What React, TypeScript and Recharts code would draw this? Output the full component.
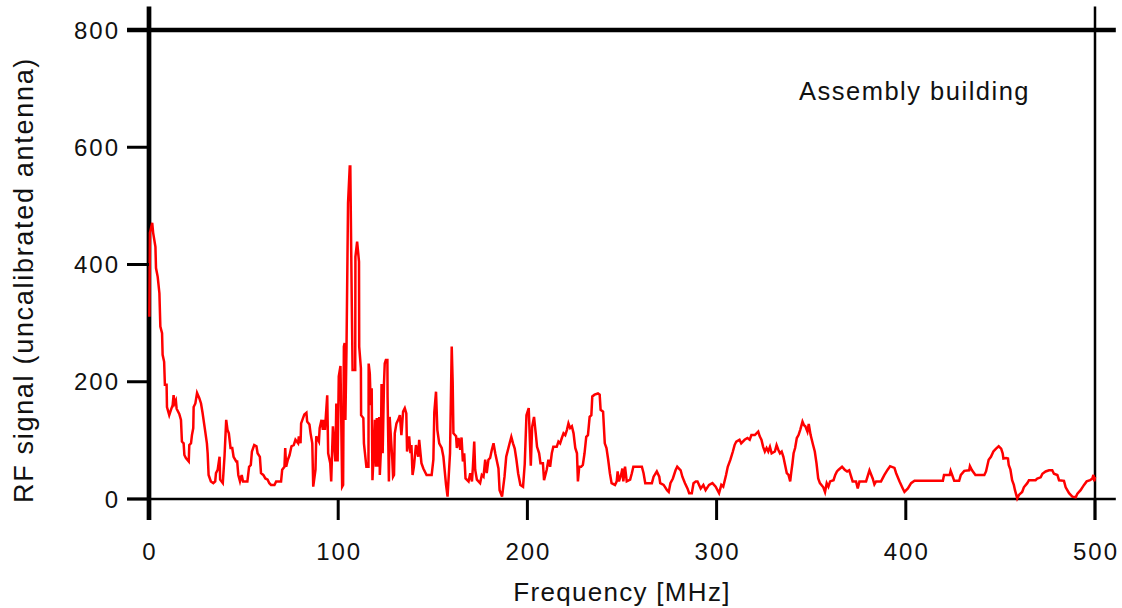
import { LineChart, Line, XAxis, YAxis, ReferenceLine } from 'recharts';

// values
const freqMHz = [
  0.2, 0.5, 1.7, 2.2, 3.4, 3.7, 4.6, 5.5, 6, 6.9, 7.2, 8, 8.4, 9.3, 9.5, 10.7, 11.6, 12.5, 13, 13.5,
  14.2, 14.6, 16, 16.9, 17.4, 18.3, 18.7, 19.5, 21, 21.3, 22.2, 22.7, 23.4, 23.6, 24.5, 25.4, 26.6, 27.5, 28.3, 29.6,
  30.6, 31, 31.5, 32.7, 34, 35, 35.4, 36.3, 37.3, 37.6, 39, 39.9, 40.8, 41.5, 42.2, 43.1, 44, 44.7, 46.1, 46.6,
  47.2, 48.1, 49, 49.7, 52, 52.9, 53.8, 54.4, 55.6, 56.8, 57.4, 58.6, 59.2, 60.4, 61.5, 62.7, 63.6, 64.5, 66.3, 67.2,
  69.8, 70.4, 71.6, 72, 72.5, 73.4, 74.3, 75.3, 76.5, 77.4, 78.8, 79.2, 80.1, 80.4, 81.4, 82.1, 83.2, 83.6, 84.8, 85.4,
  86.3, 86.8, 88, 88.4, 89.8, 90.2, 91.2, 91.9, 92.4, 93, 94.2, 94.7, 95.8, 96.3, 97.2, 98.5, 99, 99.7, 100.3, 101.2,
  102.1, 102.6, 103, 103.4, 103.8, 104.4, 105.2, 106.1, 106.4, 107.2, 107.6, 109, 109.1, 110, 111, 111.1, 112, 112.1, 113.3, 113.6,
  114.9, 116, 116.1, 116.7, 117.2, 117.7, 118.1, 119, 119.4, 119.9, 120.4, 121.1, 121.7, 122, 122.5, 122.9, 123.4, 123.5, 124.2, 124.6,
  125.2, 126, 126.1, 126.8, 127.2, 128.6, 129, 129.5, 129.9, 130.8, 131.7, 132.6, 133.4, 134.3, 135.2, 136, 136.4, 137.5, 138.2, 138.7,
  139.3, 140, 141.1, 142.3, 142.8, 144, 145, 146.7, 149.4, 150.3, 150.8, 151.7, 152.4, 153.4, 154.7, 155.6, 157, 157.8, 159.1, 160,
  160.5, 160.9, 162.3, 162.7, 163.6, 164.5, 165.2, 165.9, 166.6, 167.3, 168.9, 169.8, 170.7, 171.2, 171.9, 172.4, 173.3, 175, 175.9, 176.8,
  177.7, 178.5, 179.4, 180.3, 181.2, 182.1, 183, 184.7, 185.3, 186.6, 187.9, 188.8, 190.6, 191.5, 192.4, 193.3, 194.2, 195.1, 196.3, 197.7,
  198.6, 199.5, 200.7, 201.3, 201.8, 202.5, 203.5, 204.4, 205.1, 206.2, 206.9, 208.2, 208.8, 210.2, 211.1, 212, 212.9, 213.7, 215.5, 216.4,
  217.3, 218.2, 219.1, 220, 220.9, 221.7, 222.6, 223.5, 224.4, 225.3, 226.2, 226.7, 227.4, 228.4, 229.3, 230.2, 231.1, 232, 232.9, 233.8,
  234.3, 235.5, 237.3, 238.2, 238.7, 240, 240.9, 241.8, 242.7, 243.6, 244.5, 246.3, 247.2, 247.7, 248.4, 249.5, 250.2, 250.7, 251.6, 252.5,
  254.3, 255.2, 256, 260.5, 261.4, 262.3, 265.8, 266.7, 268.4, 269.7, 270.2, 272, 273.8, 274.7, 275.6, 276.9, 278.3, 279.2, 281, 281.9,
  283.3, 284.6, 285.5, 286.9, 287.8, 289, 289.9, 291.6, 293, 294.2, 296, 297.8, 299.5, 301.3, 302.5, 303.5, 305, 305.9, 307.3, 308.6,
  309.5, 310.4, 312.1, 313, 314.8, 316.3, 317.5, 318.4, 320.2, 322, 322.8, 323.7, 324.6, 325.5, 326.4, 327.3, 328.2, 329.1, 330.8, 331.7,
  332.6, 333.5, 334.4, 335.3, 336.2, 337.1, 338, 338.9, 339.4, 340.1, 340.7, 341.5, 342.4, 343.3, 344.2, 345.4, 346.2, 346.9, 348, 348.7,
  349.7, 351, 351.9, 352.8, 353.7, 354.6, 356.4, 357.3, 358.2, 359.1, 360, 361.8, 362.7, 363.6, 364.5, 366.3, 367.7, 369, 370.1, 371.9,
  373.7, 374.6, 375.5, 379, 380.8, 382.5, 383.4, 384.3, 386.9, 388.7, 390.4, 391.7, 394, 394.9, 396.7, 398.4, 399.3, 401.1, 402.8, 404.6,
  419.6, 420.2, 423.2, 423.7, 424.5, 425.6, 428.2, 429.1, 430.9, 433.5, 433.9, 435, 436.8, 441.5, 442.4, 443.8, 445, 446.3, 447.7, 449.1,
  450.4, 451.2, 451.6, 453, 454, 454.4, 455.3, 456.2, 457.1, 457.7, 458.9, 459.8, 461.5, 462.4, 464.2, 465.1, 468.6, 469.5, 471.3, 472.2,
  473.9, 475.7, 477.4, 478.3, 480.1, 481, 483.6, 484.5, 486.3, 488, 489.8, 490.7, 492.4, 494.2, 495.6, 497.4, 498.6, 499.2, 499.6, 500,
];

const rfSignal = [
  311, 454, 471, 454, 430, 394, 379, 351, 294, 283, 246, 234, 195, 195, 157, 143, 152, 160, 177, 163,
  168, 154, 145, 135, 98, 95, 75, 70, 64, 92, 95, 109, 121, 157, 163, 181, 172, 163, 147, 118,
  95, 78, 41, 30, 27, 30, 44, 50, 72, 33, 27, 72, 135, 118, 112, 87, 87, 72, 64, 64,
  41, 30, 41, 30, 30, 55, 58, 81, 92, 90, 78, 72, 44, 41, 35, 33, 27, 24, 24, 30,
  30, 50, 55, 87, 55, 67, 75, 90, 92, 101, 95, 107, 95, 129, 138, 144, 147, 132, 127, 112,
  95, 21, 50, 107, 98, 121, 135, 118, 135, 118, 177, 78, 61, 30, 124, 64, 163, 64, 209, 227,
  21, 24, 260, 266, 135, 260, 505, 567, 567, 328, 220, 220, 413, 439, 405, 260, 223, 143, 138, 95,
  55, 55, 231, 214, 160, 189, 32, 95, 135, 55, 138, 55, 140, 41, 78, 194, 194, 78, 197, 231,
  237, 237, 175, 30, 140, 67, 38, 41, 112, 129, 135, 143, 109, 149, 155, 146, 81, 107, 78, 92,
  41, 55, 92, 72, 101, 61, 52, 41, 41, 67, 148, 183, 118, 95, 87, 72, 24, 4, 78, 260,
  200, 112, 107, 87, 104, 84, 105, 64, 78, 35, 30, 44, 30, 55, 98, 50, 33, 27, 41, 38,
  67, 44, 67, 70, 84, 95, 78, 52, 15, 4, 38, 72, 95, 106, 95, 86, 67, 44, 24, 21,
  60, 143, 155, 101, 57, 123, 140, 112, 89, 78, 61, 61, 32, 50, 67, 55, 78, 89, 89, 98,
  95, 104, 112, 109, 118, 129, 121, 124, 112, 87, 78, 30, 55, 55, 58, 78, 106, 109, 140, 143,
  175, 178, 180, 178, 152, 149, 95, 87, 67, 44, 27, 24, 30, 47, 30, 41, 52, 30, 55, 30,
  33, 44, 55, 55, 44, 27, 27, 38, 47, 38, 27, 24, 15, 12, 27, 35, 49, 55, 49, 38,
  27, 18, 10, 10, 27, 30, 30, 18, 24, 15, 24, 27, 21, 10, 24, 21, 41, 55, 67, 81,
  92, 98, 101, 95, 101, 104, 101, 109, 109, 115, 107, 101, 89, 81, 87, 81, 89, 78, 81, 92,
  84, 78, 81, 72, 58, 44, 41, 30, 44, 61, 78, 87, 104, 109, 118, 132, 126, 124, 115, 128,
  109, 92, 81, 61, 35, 27, 20, 12, 27, 21, 30, 32, 41, 47, 50, 55, 50, 47, 49, 30,
  30, 18, 30, 30, 49, 35, 25, 30, 30, 41, 50, 56, 53, 44, 30, 18, 12, 18, 27, 31,
  31, 41, 41, 48, 41, 31, 31, 41, 48, 49, 56, 49, 41, 41, 47, 67, 72, 81, 86, 90,
  86, 78, 69, 70, 69, 58, 50, 32, 24, 15, 1, 7, 12, 20, 27, 32, 32, 35, 37, 43,
  47, 49, 49, 43, 41, 32, 31, 20, 10, 4, 3, 9, 15, 24, 30, 32, 35, 41, 30, 38,
];

const freqTicks = [0, 100, 200, 300, 400, 500];
const signalTicks = [0, 200, 400, 600, 800];

const data = freqMHz.map((f, i) => ({ f, v: rfSignal[i] }));

const FONT = '"Liberation Sans", Arial, Helvetica, sans-serif';

const YTick = ({ x, y, payload }: any) => (
  <text x={x} y={y} dy="0.355em" textAnchor="end" fontFamily={FONT} fontSize={24} letterSpacing={2} fill="#111">
    {payload.value}
  </text>
);

const XTick = ({ x, y, payload }: any) => (
  <text x={x} y={y} dx={1} dy="0.71em" textAnchor="middle" fontFamily={FONT} fontSize={24} letterSpacing={2} fill="#111">
    {payload.value}
  </text>
);

export default function App() {
  return (
    <div style={{ position: 'absolute', left: 0, top: 0, width: 1122, height: 608, background: '#fff' }}>
      <LineChart
        width={1122}
        height={608}
        data={data}
        margin={{ top: 0, right: 0, bottom: 0, left: 0 }}
        style={{ overflow: 'visible' }}
      >
        <XAxis
          dataKey="f"
          type="number"
          domain={[0, 500]}
          ticks={freqTicks}
          height={109}
          axisLine={false}
          tickSize={21}
          tickMargin={23}
          tickLine={{ stroke: '#000', strokeWidth: 3 }}
          tick={<XTick />}
          label={{
            content: () => (
              <text x={622} y={601} textAnchor="middle" fontFamily={FONT} fontSize={26} letterSpacing={1.3} fill="#111">
                Frequency [MHz]
              </text>
            ),
          }}
        />
        <XAxis
          xAxisId="top"
          orientation="top"
          dataKey="f"
          type="number"
          domain={[0, 500]}
          ticks={freqTicks}
          height={30}
          axisLine={false}
          tickSize={23}
          tickLine={{ stroke: '#000', strokeWidth: 3 }}
          tick={false}
        />
        <YAxis
          type="number"
          domain={[0, 800]}
          ticks={signalTicks}
          width={149}
          axisLine={false}
          tickSize={22}
          tickMargin={7}
          tickLine={{ stroke: '#000', strokeWidth: 3 }}
          tick={<YTick />}
          label={{
            content: () => (
              <text
                x={33}
                y={280}
                transform="rotate(-90 33 280)"
                textAnchor="middle"
                fontFamily={FONT}
                fontSize={27}
                letterSpacing={1.7}
                fill="#111"
              >
                RF signal (uncalibrated antenna)
              </text>
            ),
          }}
        />
        <YAxis
          yAxisId="right"
          orientation="right"
          type="number"
          domain={[0, 800]}
          ticks={signalTicks}
          width={27}
          axisLine={false}
          tickSize={20}
          tickLine={{ stroke: '#000', strokeWidth: 3 }}
          tick={false}
          label={{
            content: () => (
              <text x={799} y={100} textAnchor="start" fontFamily={FONT} fontSize={25.5} letterSpacing={1.5} fill="#111">
                Assembly building
              </text>
            ),
          }}
        />

        <ReferenceLine segment={[{ x: -11.6, y: 800 }, { x: 511, y: 800 }]} stroke="#000" strokeWidth={4.5} ifOverflow="visible" />
        <ReferenceLine segment={[{ x: -11.6, y: 0 }, { x: 511, y: 0 }]} stroke="#000" strokeWidth={2.5} ifOverflow="visible" />
        <ReferenceLine segment={[{ x: 500, y: -36 }, { x: 500, y: 840 }]} stroke="#000" strokeWidth={2.5} ifOverflow="visible" />
        <ReferenceLine segment={[{ x: 0, y: -36 }, { x: 0, y: 840 }]} stroke="#000" strokeWidth={4.7} ifOverflow="visible" />

        <Line
          dataKey="v"
          type="linear"
          stroke="#ff0000"
          strokeWidth={2.5}
          dot={false}
          activeDot={false}
          isAnimationActive={false}
        />
      </LineChart>
    </div>
  );
}
